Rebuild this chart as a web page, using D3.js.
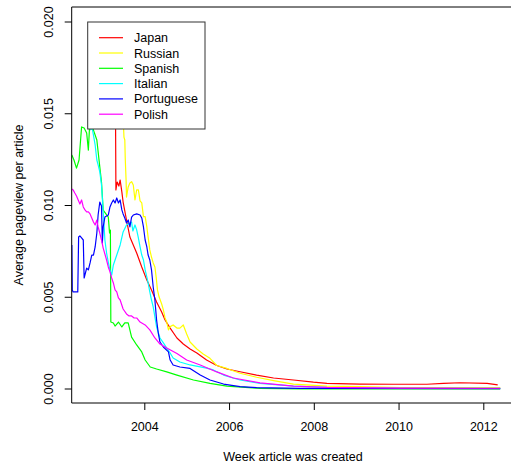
<!DOCTYPE html>
<html><head><meta charset="utf-8">
<script src="https://cdn.jsdelivr.net/npm/d3@7"></script>
<style>body{margin:0;background:#fff}svg{display:block;font-family:"Liberation Sans",Arial,sans-serif}</style>
</head><body>
<svg id="c" width="511" height="465"></svg>
<script>
const seriesNames = ["Japan","Russian","Spanish","Italian","Portuguese","Polish"];
const seriesColors = ["#ff0000","#ffff00","#00ff00","#00ffff","#0000ff","#ff00ff"];
const xTicks = [2004,2006,2008,2010,2012];
const yTicks = [0,0.005,0.01,0.015,0.02];
const yTickLabels = ["0.000","0.005","0.010","0.015","0.020"];

const japanYears = [2003.29,2003.32,2003.33,2003.36,2003.40,2003.43,2003.47,2003.50,2003.58,2003.66,2003.82,2003.94,2004.06,2004.17,2004.29,2004.41,2004.49,2004.61,2004.77,2004.92,2005.08,2005.24,2005.47,2005.71,2005.95,2006.26,2006.65,2007.05,2007.52,2007.99,2008.31,2009.09,2009.88,2010.67,2011.06,2011.45,2012.09,2012.34];
const japanValues = [0.01521,0.01531,0.01085,0.01128,0.01106,0.01139,0.01074,0.01019,0.00921,0.00828,0.00741,0.00665,0.00594,0.00540,0.00474,0.00420,0.00376,0.00332,0.00278,0.00245,0.00218,0.00196,0.00158,0.00128,0.00109,0.00094,0.00076,0.00060,0.00049,0.00037,0.00031,0.00027,0.00026,0.00026,0.00031,0.00034,0.00031,0.00022];

const russianYears = [2003.43,2003.47,2003.50,2003.52,2003.54,2003.55,2003.57,2003.58,2003.62,2003.66,2003.70,2003.74,2003.78,2003.82,2003.86,2003.90,2003.94,2003.98,2004.02,2004.06,2004.09,2004.13,2004.17,2004.21,2004.25,2004.28,2004.31,2004.35,2004.41,2004.45,2004.49,2004.53,2004.57,2004.61,2004.68,2004.77,2004.84,2004.92,2005.00,2005.08,2005.24,2005.39,2005.55,2005.71,2005.95,2006.26,2006.65,2007.05,2007.52,2008.31,2009.09,2010.04,2012.40];
const russianValues = [0.01728,0.01619,0.01482,0.01373,0.01357,0.01259,0.01139,0.01046,0.01101,0.01123,0.01130,0.01112,0.01030,0.01085,0.01085,0.01025,0.01014,0.00939,0.00939,0.00883,0.00828,0.00758,0.00719,0.00687,0.00665,0.00610,0.00540,0.00501,0.00463,0.00431,0.00387,0.00365,0.00322,0.00340,0.00349,0.00332,0.00332,0.00349,0.00300,0.00256,0.00218,0.00191,0.00167,0.00128,0.00112,0.00086,0.00064,0.00046,0.00027,0.00016,0.00013,0.00008,0.00007];

const spanishYears = [2002.29,2002.34,2002.40,2002.46,2002.52,2002.58,2002.64,2002.68,2002.71,2002.73,2002.80,2002.88,2002.95,2002.99,2003.03,2003.15,2003.18,2003.20,2003.21,2003.27,2003.31,2003.39,2003.47,2003.54,2003.62,2003.70,2003.82,2003.94,2004.02,2004.14,2004.29,2004.53,2004.77,2005.16,2005.55,2005.95,2006.73,2007.68,2012.40];
const spanishValues = [0.01275,0.01248,0.01204,0.01248,0.01428,0.01422,0.01395,0.01302,0.01439,0.01493,0.01411,0.01357,0.01210,0.01128,0.00975,0.00937,0.00850,0.00866,0.00365,0.00360,0.00343,0.00365,0.00338,0.00360,0.00360,0.00283,0.00240,0.00202,0.00158,0.00120,0.00109,0.00093,0.00076,0.00049,0.00031,0.00016,0.00003,0.00001,0.00001];

const italianYears = [2002.72,2002.77,2002.80,2002.84,2002.88,2002.91,2002.95,2002.99,2003.02,2003.05,2003.07,2003.11,2003.15,2003.19,2003.23,2003.27,2003.35,2003.43,2003.50,2003.58,2003.66,2003.70,2003.73,2003.78,2003.82,2003.86,2003.90,2003.94,2003.98,2004.02,2004.06,2004.09,2004.13,2004.17,2004.21,2004.29,2004.37,2004.45,2004.53,2004.61,2004.68,2004.84,2005.08,2005.47,2005.63,2005.87,2006.26,2006.73,2007.52,2008.31,2010.04,2012.40];
const italianValues = [0.01411,0.01422,0.01384,0.01330,0.01248,0.01221,0.01183,0.01112,0.01003,0.00894,0.00812,0.00741,0.00692,0.00649,0.00621,0.00676,0.00730,0.00785,0.00856,0.00894,0.00905,0.00910,0.00861,0.00894,0.00867,0.00823,0.00774,0.00730,0.00703,0.00649,0.00610,0.00578,0.00529,0.00485,0.00447,0.00338,0.00278,0.00251,0.00223,0.00196,0.00169,0.00147,0.00131,0.00114,0.00104,0.00076,0.00049,0.00031,0.00016,0.00009,0.00004,0.00003];

const portugueseYears = [2002.29,2002.30,2002.32,2002.43,2002.45,2002.48,2002.52,2002.56,2002.58,2002.64,2002.68,2002.72,2002.76,2002.80,2002.84,2002.88,2002.91,2002.95,2002.99,2003.01,2003.03,2003.07,2003.15,2003.19,2003.23,2003.27,2003.31,2003.35,2003.39,2003.43,2003.47,2003.50,2003.54,2003.58,2003.62,2003.66,2003.70,2003.74,2003.82,2003.90,2003.94,2003.98,2004.02,2004.06,2004.09,2004.13,2004.17,2004.21,2004.25,2004.29,2004.33,2004.37,2004.45,2004.57,2004.61,2004.68,2004.84,2005.08,2005.32,2005.55,2005.87,2006.26,2006.65,2007.68,2012.40];
const portugueseValues = [0.00785,0.00540,0.00529,0.00529,0.00828,0.00834,0.00823,0.00812,0.00605,0.00659,0.00649,0.00687,0.00730,0.00730,0.00774,0.00850,0.00948,0.01019,0.00997,0.00796,0.00883,0.00937,0.00948,0.00992,0.01014,0.01030,0.01014,0.01041,0.01014,0.01030,0.00976,0.00954,0.00932,0.00905,0.00921,0.00883,0.00937,0.00948,0.00954,0.00948,0.00932,0.00883,0.00812,0.00774,0.00730,0.00703,0.00649,0.00556,0.00485,0.00376,0.00305,0.00256,0.00229,0.00202,0.00158,0.00131,0.00120,0.00112,0.00076,0.00049,0.00027,0.00013,0.00007,0.00003,0.00002];

const polishYears = [2002.29,2002.32,2002.36,2002.40,2002.44,2002.48,2002.52,2002.56,2002.60,2002.64,2002.68,2002.72,2002.76,2002.80,2002.84,2002.88,2002.91,2002.95,2002.99,2003.03,2003.11,2003.15,2003.19,2003.23,2003.27,2003.31,2003.35,2003.39,2003.43,2003.50,2003.58,2003.64,2003.70,2003.76,2003.82,2003.90,2004.02,2004.13,2004.25,2004.37,2004.53,2004.77,2005.00,2005.32,2005.71,2006.10,2006.73,2007.52,2008.31,2010.04,2012.40];
const polishValues = [0.01090,0.01085,0.01068,0.01052,0.01030,0.01008,0.01030,0.00992,0.00976,0.00965,0.00965,0.00954,0.00932,0.00910,0.00894,0.00921,0.00883,0.00850,0.00812,0.00768,0.00703,0.00665,0.00638,0.00605,0.00578,0.00540,0.00529,0.00496,0.00485,0.00436,0.00409,0.00398,0.00398,0.00387,0.00387,0.00365,0.00349,0.00322,0.00278,0.00245,0.00223,0.00193,0.00158,0.00131,0.00093,0.00060,0.00033,0.00016,0.00009,0.00005,0.00004];

const allYears = [japanYears,russianYears,spanishYears,italianYears,portugueseYears,polishYears];
const allValues = [japanValues,russianValues,spanishValues,italianValues,portugueseValues,polishValues];

const FS = "12.5px";
const svg = d3.select("#c");
const plotL = 71.7, plotT = 7, plotB = 403;
const x = d3.scaleLinear().domain([2004, 2012]).range([144.3, 483.3]);
const y = d3.scaleLinear().domain([0, 0.02]).range([389, 22]);

svg.append("defs").append("clipPath").attr("id","clip")
  .append("rect").attr("x",plotL).attr("y",plotT).attr("width",600).attr("height",plotB-plotT);

const line = d3.line().x(d=>x(d[0])).y(d=>y(d[1]));
const g = svg.append("g").attr("clip-path","url(#clip)");
allYears.forEach((yrs,i)=>{
  const pts = yrs.map((t,j)=>[t, allValues[i][j]]);
  g.append("path").datum(pts).attr("d",line).attr("fill","none")
    .attr("stroke",seriesColors[i]).attr("stroke-width",1.2).attr("stroke-linejoin","round");
});

// frame (left, top, bottom)
svg.append("path").attr("d",`M511,${plotT}H${plotL}V${plotB}H511`).attr("fill","none").attr("stroke","#000").attr("stroke-width",1);

// y axis
const yAxis = d3.axisLeft(y).tickValues(yTicks).tickSize(7).tickFormat((d,i)=>yTickLabels[i]);
const ya = svg.append("g").attr("transform",`translate(${plotL},0)`).call(yAxis);
ya.select(".domain").remove();
ya.selectAll(".tick").attr("transform","translate(0,0)");
ya.selectAll(".tick line").attr("y1",d=>y(d)).attr("y2",d=>y(d));
ya.selectAll("text").attr("x",0).attr("y",0).attr("dx",null).attr("dy",null)
  .attr("text-anchor","middle").style("font-size",FS).style("font-family","Liberation Sans, Arial, sans-serif")
  .attr("transform",d=>`translate(-18.5,${y(d)}) rotate(-90)`);

// x axis
const xAxis = d3.axisBottom(x).tickValues(xTicks).tickSize(7).tickFormat(d3.format("d"));
const xa = svg.append("g").attr("transform",`translate(0,${plotB})`).call(xAxis);
xa.select(".domain").remove();
xa.selectAll("text").attr("y",0).attr("dy",null).attr("transform","translate(0,28)")
  .style("font-size",FS).style("font-family","Liberation Sans, Arial, sans-serif");

// titles
svg.append("text").attr("x",293).attr("y",461).attr("text-anchor","middle")
  .style("font-size",FS).text("Week article was created");
svg.append("text").attr("transform",`translate(22.5,205) rotate(-90)`).attr("text-anchor","middle")
  .style("font-size",FS).text("Average pageview per article");

// legend
const lg = svg.append("g");
lg.append("rect").attr("x",87.7).attr("y",22).attr("width",117.3).attr("height",107)
  .attr("fill","#fff").attr("stroke","#333").attr("stroke-width",1);
seriesNames.forEach((n,i)=>{
  const yy = 37.7 + i*15.3;
  lg.append("line").attr("x1",99).attr("x2",123).attr("y1",yy).attr("y2",yy)
    .attr("stroke",seriesColors[i]).attr("stroke-width",1.2);
  lg.append("text").attr("x",134).attr("y",yy+4.5).style("font-size",FS).text(n);
});
</script>
</body></html>
